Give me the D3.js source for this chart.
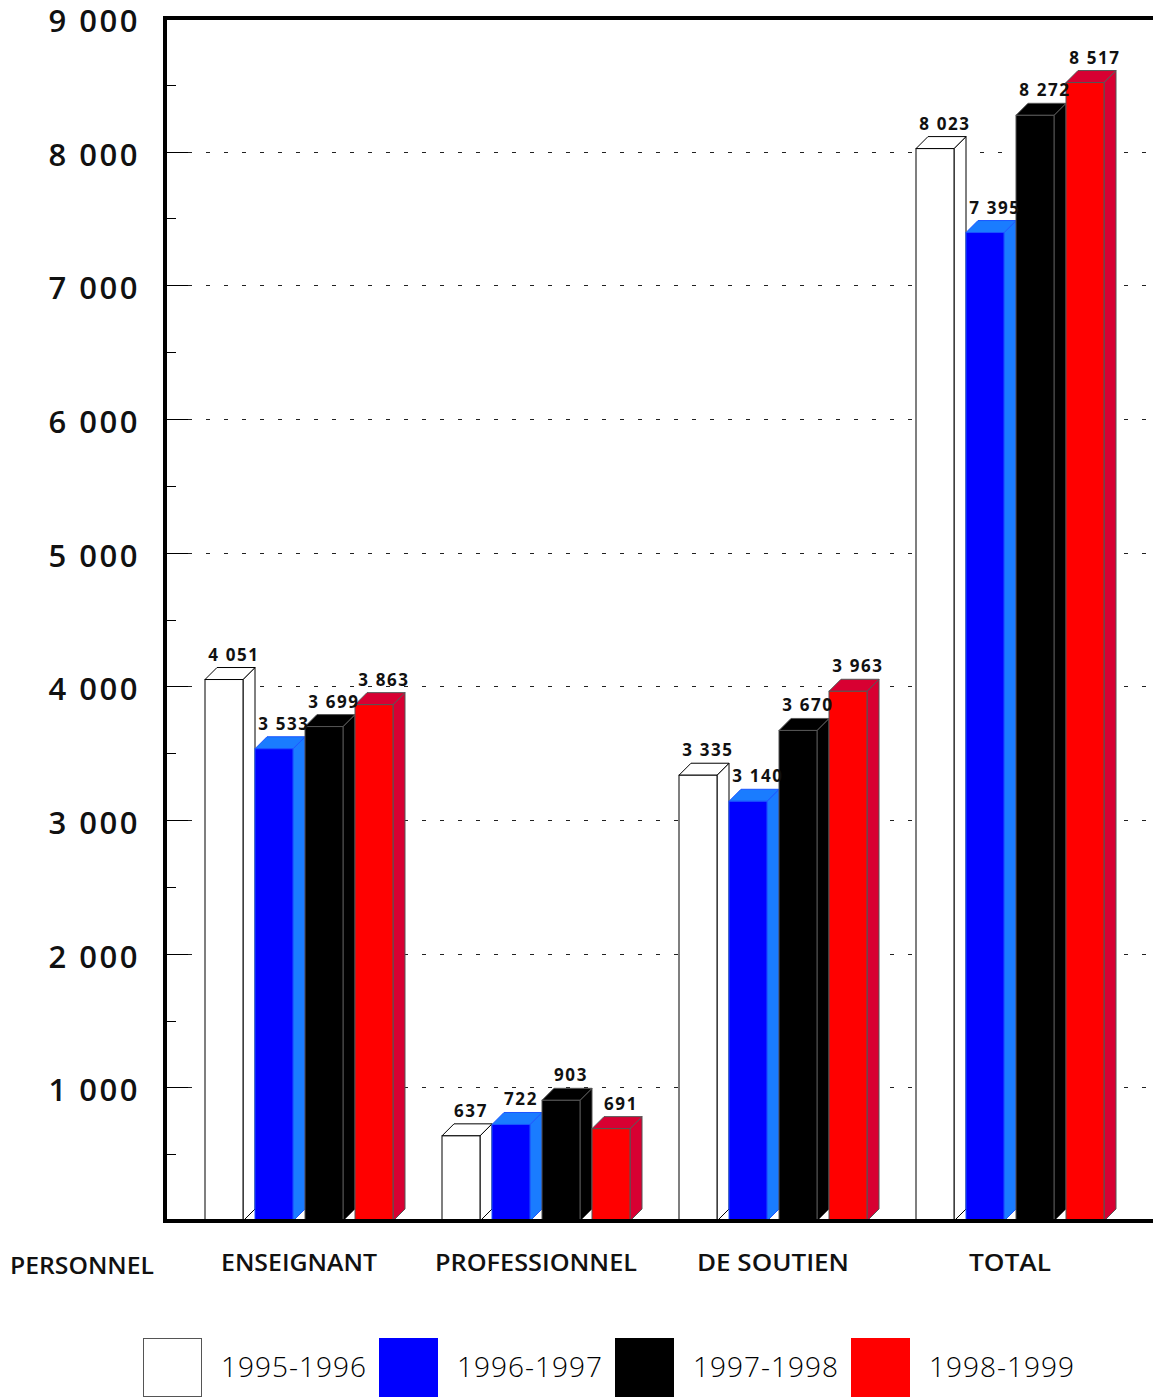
<!DOCTYPE html>
<html>
<head>
<meta charset="utf-8">
<script src="https://cdn.jsdelivr.net/npm/d3@7"></script>
<style>
  html, body { margin: 0; padding: 0; background: #fff; }
  svg { display: block; }
</style>
</head>
<body>
<svg id="chart" width="1153" height="1397"></svg>
<script>
// Personnel counts by category and school year
const categories = ["ENSEIGNANT", "PROFESSIONNEL", "DE SOUTIEN", "TOTAL"];
const years = ["1995-1996", "1996-1997", "1997-1998", "1998-1999"];
const values1995 = [4051, 637, 3335, 8023];
const values1996 = [3533, 722, 3140, 7395];
const values1997 = [3699, 903, 3670, 8272];
const values1998 = [3863, 691, 3963, 8517];
const yTicks = [1000, 2000, 3000, 4000, 5000, 6000, 7000, 8000, 9000];
const axisTitle = "PERSONNEL";

const seriesValues = [values1995, values1996, values1997, values1998];

// face colours: front, top, side, outline
const palette = [
  { front: "#ffffff", top: "#ffffff", side: "#ffffff", stroke: "#000000" },
  { front: "#0000ff", top: "#1a7cff", side: "#1a7cff", stroke: "#1a55ff" },
  { front: "#000000", top: "#000000", side: "#000000", stroke: "#555555" },
  { front: "#ff0000", top: "#d80032", side: "#d80032", stroke: "#555555" }
];

const fmt = v => d3.format(",")(v).replace(/,/g, " ");

const svg = d3.select("#chart");
const plot = { left: 165, top: 18, right: 1153, bottom: 1221 };
const depth = 12;
const barW = 38;

const y = d3.scaleLinear().domain([0, 9000]).range([plot.bottom, plot.top]);
const x = d3.scaleBand().domain(categories).range([205, 205 + 4 * 237]);
const xs = d3.scaleBand().domain(years).range([0, 200]);

// dotted gridlines
const grid = svg.append("g");
grid.selectAll("line").data(yTicks.slice(0, -1)).join("line")
  .attr("x1", plot.left + 23).attr("x2", plot.right)
  .attr("y1", d => Math.round(y(d)) + 0.5).attr("y2", d => Math.round(y(d)) + 0.5)
  .attr("stroke", "#222").attr("stroke-width", 1)
  .attr("stroke-dasharray", "4 14");

// axis ticks (major + minor)
const ticks = svg.append("g");
ticks.selectAll("line.major").data(yTicks.slice(0, -1)).join("line")
  .attr("class", "major")
  .attr("x1", plot.left).attr("x2", plot.left + 23)
  .attr("y1", d => Math.round(y(d)) + 0.5).attr("y2", d => Math.round(y(d)) + 0.5)
  .attr("stroke", "#000").attr("stroke-width", 1);
ticks.selectAll("line.minor").data(d3.range(500, 9000, 1000)).join("line")
  .attr("class", "minor")
  .attr("x1", plot.left).attr("x2", plot.left + 11)
  .attr("y1", d => Math.round(y(d)) + 0.5).attr("y2", d => Math.round(y(d)) + 0.5)
  .attr("stroke", "#000").attr("stroke-width", 1);

// y tick labels
svg.append("g").selectAll("text").data(yTicks).join("text")
  .attr("x", 140).attr("y", d => y(d) + 14)
  .attr("text-anchor", "end")
  .attr("font-family", "'Open Sans', sans-serif")
  .attr("font-size", 31).attr("font-weight", 600)
  .attr("letter-spacing", 2.5)
  .attr("fill", "#111")
  .text(d => fmt(d));

// 3D bars
const bars = svg.append("g");
const labels = [];
categories.forEach((cat, ci) => {
  years.forEach((yr, si) => {
    const v = seriesValues[si][ci];
    const x0 = x(cat) + xs(yr);
    const yt = y(v);
    const yb = y(0);
    const c = palette[si];
    const g = bars.append("g");
    // side face
    g.append("path")
      .attr("d", `M${x0 + barW},${yt} L${x0 + barW + depth},${yt - depth} L${x0 + barW + depth},${yb - depth} L${x0 + barW},${yb} Z`)
      .attr("fill", c.side).attr("stroke", c.stroke).attr("stroke-width", 1).attr("stroke-linejoin", "round");
    // top face
    g.append("path")
      .attr("d", `M${x0},${yt} L${x0 + depth},${yt - depth} L${x0 + barW + depth},${yt - depth} L${x0 + barW},${yt} Z`)
      .attr("fill", c.top).attr("stroke", c.stroke).attr("stroke-width", 1).attr("stroke-linejoin", "round");
    // front face
    g.append("rect")
      .attr("x", x0).attr("y", yt)
      .attr("width", barW).attr("height", yb - yt)
      .attr("fill", c.front).attr("stroke", c.stroke).attr("stroke-width", 1);
    labels.push({ x: x0 + (barW + depth) / 2 + 4, y: yt - depth - 7, v });
  });
});

// value labels above all bars
svg.append("g").selectAll("text").data(labels).join("text")
  .attr("x", d => d.x).attr("y", d => d.y)
  .attr("text-anchor", "middle")
  .attr("font-family", "'Open Sans', sans-serif")
  .attr("font-size", 17).attr("font-weight", 700)
  .attr("letter-spacing", 1.6)
  .attr("fill", "#111")
  .text(d => fmt(d.v));

// frame: left, top, bottom
svg.append("path")
  .attr("d", `M${plot.right},${plot.top} L${plot.left},${plot.top} L${plot.left},${plot.bottom} L${plot.right},${plot.bottom}`)
  .attr("fill", "none").attr("stroke", "#000").attr("stroke-width", 4);

// category labels
const labelWidths = { "ENSEIGNANT": 156, "PROFESSIONNEL": 202, "DE SOUTIEN": 152, "TOTAL": 82 };
svg.append("g").selectAll("text").data(categories).join("text")
  .attr("x", d => x(d) + 94 - labelWidths[d] / 2)
  .attr("y", 1271)
  .attr("textLength", d => labelWidths[d])
  .attr("lengthAdjust", "spacingAndGlyphs")
  .attr("font-family", "'Open Sans', sans-serif")
  .attr("font-size", 24).attr("font-weight", 600)
  .attr("fill", "#111")
  .text(d => d);

svg.append("text")
  .attr("x", 10).attr("y", 1274)
  .attr("textLength", 144).attr("lengthAdjust", "spacingAndGlyphs")
  .attr("font-family", "'Open Sans', sans-serif")
  .attr("font-size", 24).attr("font-weight", 600)
  .attr("fill", "#111")
  .text(axisTitle);

// legend
const legend = svg.append("g");
const lx = d3.scaleBand().domain(years).range([143, 143 + 4 * 236]);
years.forEach((yr, i) => {
  const gx = lx(yr);
  legend.append("rect")
    .attr("x", gx + 0.5).attr("y", 1338.5)
    .attr("width", 58).attr("height", 58)
    .attr("fill", palette[i].front)
    .attr("stroke", i === 0 ? "#555" : palette[i].front)
    .attr("stroke-width", 1);
  legend.append("text")
    .attr("x", gx + 78).attr("y", 1377)
    .attr("font-family", "'Open Sans', sans-serif")
    .attr("font-size", 28).attr("font-weight", 300)
    .attr("letter-spacing", 1)
    .attr("fill", "#000")
    .text(yr);
});
</script>
</body>
</html>
